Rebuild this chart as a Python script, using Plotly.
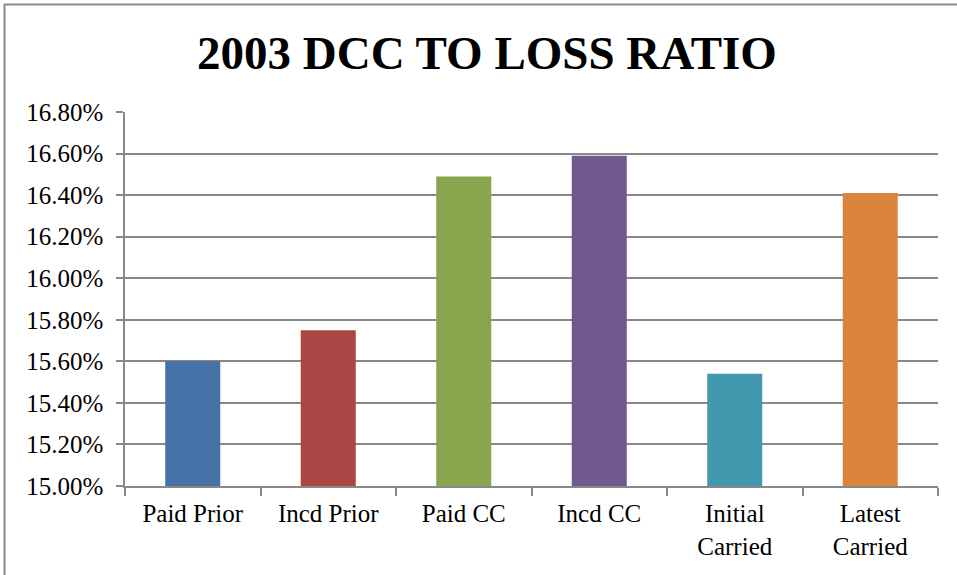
import plotly.graph_objects as go

# Data
categories = ["Paid Prior", "Incd Prior", "Paid CC", "Incd CC", "Initial<br>Carried", "Latest<br>Carried"]
ratios = [0.1560, 0.1575, 0.1649, 0.1659, 0.1554, 0.1641]
bar_colors = ["#4572A7", "#AA4643", "#89A54E", "#71588F", "#4198AF", "#DB843D"]
tick_values = [0.150 + 0.002 * i for i in range(10)]

W, H = 957, 575
L, R, T, B = 125, 19, 112, 89
pw, ph = W - L - R, H - T - B

serif = "Liberation Serif"
grid = "#888888"

fig = go.Figure(
    go.Bar(
        x=categories,
        y=ratios,
        marker=dict(color=bar_colors, line=dict(width=0)),
        showlegend=False,
    )
)

# Outer chart frame (extends past the right and bottom edges)
fig.add_shape(
    type="rect", xref="paper", yref="paper",
    x0=(4.5 - L) / pw, x1=(W + 20 - L) / pw,
    y0=(H - B - (H + 20)) / ph, y1=(H - B - 4.5) / ph,
    line=dict(color="#8a8a8a", width=2), fillcolor="rgba(0,0,0,0)", layer="below",
)

fig.update_layout(
    width=W, height=H,
    margin=dict(l=L, r=R, t=T, b=B),
    paper_bgcolor="white", plot_bgcolor="white",
    bargap=0.594,
    title=dict(
        text="<b>2003 DCC TO LOSS RATIO</b>",
        x=(487 / W), xanchor="center",
        y=1 - 53 / H, yanchor="middle",
        font=dict(family=serif, size=47, color="black"),
    ),
    font=dict(family=serif, color="black"),
)

fig.update_yaxes(
    range=[0.150, 0.168],
    tickvals=tick_values,
    tickformat=".2%",
    showgrid=True, gridcolor=grid, gridwidth=2,
    showline=True, linecolor=grid, linewidth=1.5,
    ticks="outside", ticklen=7, tickcolor=grid, tickwidth=1.5,
    tickfont=dict(family=serif, size=25, color="black"),
    ticklabelstandoff=8,
    zeroline=False,
)

fig.update_xaxes(
    showline=True, linecolor=grid, linewidth=2,
    ticks="outside", ticklen=8, tickcolor=grid, tickwidth=1.5,
    tickson="boundaries",
    tickfont=dict(family=serif, size=25, color="black"),
    ticklabelstandoff=4,
)

fig.write_html("out.html")
